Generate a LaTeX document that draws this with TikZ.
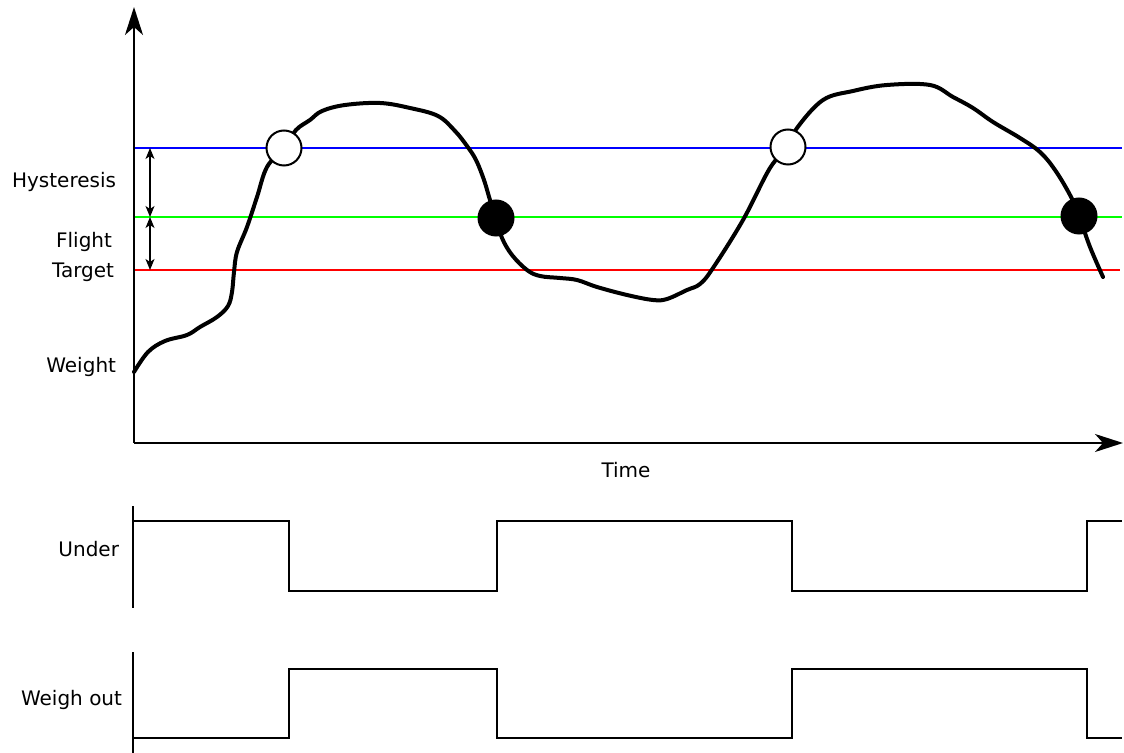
\documentclass[tikz,border=0pt]{standalone}
\usepackage{fontspec}
\setmainfont{DejaVu Sans}
\usetikzlibrary{arrows.meta,positioning}

\begin{document}
\begin{tikzpicture}
	[x=.5pt,y=-.5pt,line width=1pt,
	every node/.style={font=\fontsize{10}{12}\selectfont, inner sep=0pt},
	lbl/.style={anchor=base east},
	axis/.style={-{Stealth[length=14pt,width=9pt,inset=4pt]}},
	span/.style={{Stealth[length=5.5pt,width=4.5pt,inset=1.5pt]}-{Stealth[length=5.5pt,width=4.5pt,inset=1.5pt]}, line width=.8pt},
	pt/.style={circle, draw, line width=1pt, minimum size=17.5pt},
	level/.style={line width=.9pt},
	wave/.style={line width=1pt}]
	\useasboundingbox (0,0) rectangle (1124,753);

	% axes
	\coordinate (o) at (134,443);
	\coordinate (ytop) at (134,7);
	\coordinate (xend) at (1123,443);

	% levels
	\coordinate (b1) at (135,148); \coordinate (b2) at (1122,148);
	\coordinate (g1) at (135,217); \coordinate (g2) at (1122,217);
	\coordinate (r1) at (135,270); \coordinate (r2) at (1120,270);
	\draw[level, blue] (b1) -- (b2);
	\draw[level, green] (g1) -- (g2);
	\draw[level, red] (r1) -- (r2);

	\draw[axis] (o) -- (ytop);
	\draw[axis] (o) -- (xend);

	\coordinate (hb) at (150,148);
	\coordinate (hg) at (150,217);
	\coordinate (hr) at (150,270);
	\draw[span] (hb) -- (hg);
	\draw[span] (hg) -- (hr);

	\node[lbl] (hys) at (117,188) {Hysteresis};
	\node[lbl] (fl) at (113,248) {Flight};
	\node[lbl] (tg) at (115,278) {Target};
	\node[lbl] (wt) at (117,373) {Weight};
	\node[anchor=base] (tm) at (626,477) {Time};

	% weight curve
	\draw[line width=2pt, line join=round, line cap=round] plot[smooth, tension=.6] coordinates {
		(134,372) (148,352) (165,341) (187,335) (200,327) (217,317)
		(228,306) (232,292) (234,272) (237,252) (247,227) (257,197) (267,167)
		(284,148) (296,130) (310,120) (322,111) (345,105) (380,103) (410,108)
		(438,116) (455,131) (467,146) (476,160) (484,180) (490,200)
		(496,218) (502,238) (512,255) (527,270) (540,276) (560,278)
		(577,280) (597,287) (627,295) (653,300) (667,299) (687,290) (700,284)
		(713,268) (743,220) (770,168) (788,147) (797,128) (823,100) (853,91)
		(887,85) (930,85) (953,97) (973,108) (993,122) (1020,138) (1040,152)
		(1055,170) (1070,195) (1079,216) (1090,247) (1103,277)};

	\node[pt, fill=white] (up1) at (284,148) {};
	\node[pt, fill=black] (dn1) at (496,218) {};
	\node[pt, fill=white] (up2) at (788,147) {};
	\node[pt, fill=black] (dn2) at (1079,216) {};

	% under
	\coordinate (ua) at (133,506); \coordinate (ub) at (133,608);
	\draw (ua) -- (ub);
	\node[lbl] (un) at (120,556) {Under};
	\draw[wave] (133,521) -- (289,521) -- (289,591) -- (497,591) -- (497,521)
		-- (792,521) -- (792,591) -- (1087,591) -- (1087,521) -- (1122,521);

	% weigh out
	\coordinate (wa) at (133,652); \coordinate (wb) at (133,753);
	\draw (wa) -- (wb);
	\node[lbl] (wo) at (123,705) {Weigh out};
	\draw[wave] (133,738) -- (289,738) -- (289,669) -- (497,669) -- (497,738)
		-- (792,738) -- (792,669) -- (1087,669) -- (1087,738) -- (1122,738);
\end{tikzpicture}
\end{document}
